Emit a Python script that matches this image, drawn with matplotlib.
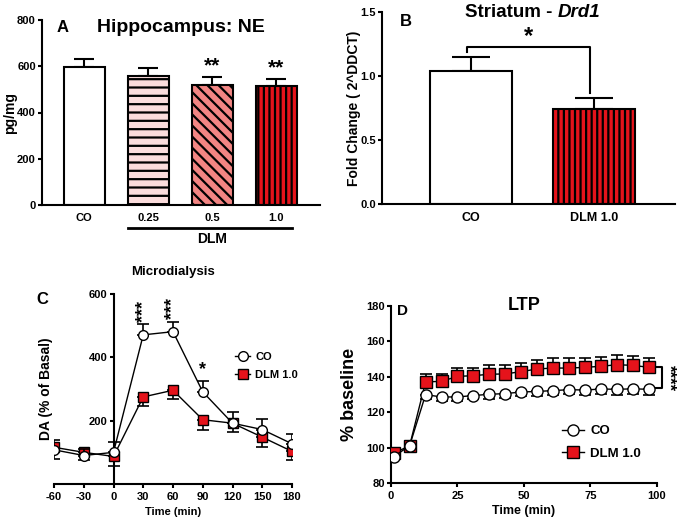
import matplotlib
matplotlib.use('Agg')
import matplotlib.pyplot as plt
from matplotlib.lines import Line2D
import matplotlib.transforms as mtransforms

plt.rcParams['font.family'] = ['Liberation Sans', 'DejaVu Sans']
plt.rcParams['font.weight'] = 'bold'
plt.rcParams['axes.labelweight'] = 'bold'
plt.rcParams['axes.unicode_minus'] = False
plt.rcParams['hatch.linewidth'] = 1.6
plt.rcParams['axes.linewidth'] = 1.5
plt.rcParams['xtick.major.width'] = 1.5
plt.rcParams['ytick.major.width'] = 1.5

# ---------------- Panel A data ----------------
a_groups = ['CO', '0.25', '0.5', '1.0']
a_ne = [598, 558, 520, 513]
a_sem = [35, 33, 35, 33]
a_sig = ['', '', '**', '**']
a_colors = ['white', '#fbdcdc', '#f28583', '#e5131b']
a_hatch = ['', '--', '\\\\\\', '|||']

# ---------------- Panel B data ----------------
b_groups = ['CO', 'DLM 1.0']
b_fold = [1.04, 0.74]
b_sem = [0.105, 0.085]
b_colors = ['white', '#e5131b']
b_hatch = ['', '|||']

# ---------------- Panel C data ----------------
c_time = [-60, -30, 0, 30, 60, 90, 120, 150, 180]
c_co = [108, 90, 100, 471, 481, 291, 192, 172, 127]
c_co_sem = [32, 22, 34, 33, 32, 35, 35, 32, 32]
c_dlm = [116, 100, 87, 275, 296, 203, 192, 148, 103]
c_dlm_sem = [37, 25, 30, 30, 29, 31, 28, 32, 27]
c_sig = ['', '', '', '***', '***', '*', '', '', '']

# ---------------- Panel D data ----------------
d_time = [1, 7, 13, 19, 25, 31, 37, 43, 49, 55, 61, 67, 73, 79, 85, 91, 97]
d_co = [95.0, 101.2, 130.0, 128.7, 128.7, 129.5, 130.2, 130.6, 131.5, 131.8,
        132.3, 132.8, 132.6, 133.2, 133.0, 133.3, 133.0]
d_co_sem = [1.0, 1.0, 2.5, 2.0, 2.0, 2.0, 2.5, 2.5, 2.5, 2.5, 2.5, 2.5, 3.0, 3.0, 3.0, 3.0, 3.0]
d_dlm = [96.9, 101.2, 137.2, 137.5, 140.3, 140.7, 141.5, 141.7, 143.0, 144.5,
         145.0, 145.0, 145.4, 146.0, 146.9, 146.5, 145.4]
d_dlm_sem = [1.0, 1.0, 4.5, 4.0, 4.5, 4.5, 5.0, 5.0, 5.0, 5.0, 5.5, 5.5, 5.5, 5.5, 5.5, 5.5, 5.5]

W, H = 680, 522
fig = plt.figure(figsize=(W / 100, H / 100), dpi=100)


def ax_px(left, top, right, bottom):
    return fig.add_axes([left / W, (H - bottom) / H, (right - left) / W, (bottom - top) / H])


def style(ax):
    for s in ['top', 'right']:
        ax.spines[s].set_visible(False)
    ax.tick_params(axis='both', labelsize=8, length=3, width=1.5, pad=1.5)
    for lab in ax.get_xticklabels() + ax.get_yticklabels():
        lab.set_fontweight('bold')


# ================= Panel A =================
axA = ax_px(42, 20, 320, 205)
xa = list(range(len(a_groups)))
bw = 0.64
axA.bar(xa, a_ne, width=bw, color=a_colors, edgecolor='black', linewidth=1.5,
        hatch=a_hatch, zorder=2)
axA.errorbar(xa, a_ne, yerr=[[0] * len(a_sem), a_sem], fmt='none', ecolor='black',
             elinewidth=1.5, capsize=7, capthick=1.5, zorder=1)
for x, m, e, s in zip(xa, a_ne, a_sem, a_sig):
    if s:
        axA.text(x, m + e + 5, s, ha='center', va='bottom', fontsize=15, fontweight='bold')
axA.set_xlim(-0.66, 3.68)
axA.set_ylim(0, 800)
axA.set_yticks([0, 200, 400, 600, 800])
axA.set_xticks(xa)
axA.set_xticklabels(a_groups)
style(axA)
axA.tick_params(axis='x', length=0, pad=6)
axA.set_ylabel('pg/mg', fontsize=10, fontweight='bold')
axA.yaxis.set_label_coords(-0.09, 0.5)
axA.text(0.074, 0.96, 'A', transform=axA.transAxes, fontsize=12, fontweight='bold',
         ha='center', va='center')
axA.text(0.5, 0.96, 'Hippocampus: NE', transform=axA.transAxes, fontsize=14,
         fontweight='bold', ha='center', va='center')
trA = mtransforms.blended_transform_factory(axA.transData, axA.transAxes)
axA.add_line(Line2D([xa[1] - bw / 2, xa[3] + bw / 2 - 0.08], [-0.124, -0.124], transform=trA,
                    color='black', lw=2, clip_on=False))
axA.text((xa[1] + xa[3]) / 2, -0.186, 'DLM', transform=trA, ha='center', va='center',
         fontsize=10, fontweight='bold')

# ================= Panel B =================
axB = ax_px(382, 12, 675, 204)
xb = list(range(len(b_groups)))
bwb = 0.667
axB.bar(xb, b_fold, width=bwb, color=b_colors, edgecolor='black', linewidth=1.5,
        hatch=b_hatch, zorder=2)
axB.errorbar(xb, b_fold, yerr=[[0] * len(b_sem), b_sem], fmt='none', ecolor='black',
             elinewidth=1.5, capsize=14, capthick=1.5, zorder=1)
axB.set_xlim(-0.724, 1.659)
axB.set_ylim(0, 1.5)
axB.set_yticks([0, 0.5, 1.0, 1.5])
axB.set_yticklabels(['0.0', '0.5', '1.0', '1.5'])
axB.set_xticks(xb)
axB.set_xticklabels(b_groups)
style(axB)
axB.tick_params(axis='x', length=0, pad=6, labelsize=9)
axB.set_ylabel('Fold Change ( 2^DDCT)', fontsize=10, fontweight='bold')
axB.yaxis.set_label_coords(-0.072, 0.5)
# significance bracket
top = max(b_fold[0] + b_sem[0], b_fold[1] + b_sem[1]) + 0.08
axB.plot([xb[0] - 0.03, xb[0] - 0.03, xb[1] - 0.03, xb[1] - 0.03],
         [b_fold[0] + b_sem[0] + 0.045, top, top, b_fold[1] + b_sem[1] + 0.04],
         color='black', lw=1.5)
axB.text((xb[0] + xb[1]) / 2 - 0.03, top + 0.085, '*', ha='center', va='center',
         fontsize=17, fontweight='bold')
axB.text(0.06, 0.95, 'B', transform=axB.transAxes, fontsize=12, fontweight='bold', va='center')
t1 = fig.text(465 / W, (H - 17) / H, 'Striatum - ', fontsize=13.5, fontweight='bold',
              ha='left', va='baseline')
axB.annotate('Drd1', xy=(1, 0), xycoords=t1, ha='left', va='bottom', fontsize=13.5,
             fontweight='bold', fontstyle='italic', annotation_clip=False)

# ================= Panel C =================
axC = ax_px(54, 294, 292, 484)
axC.plot(c_time, c_dlm, color='black', lw=1, zorder=2)
axC.errorbar(c_time, c_dlm, yerr=[c_dlm_sem, [0] * len(c_dlm_sem)], fmt='none',
             ecolor='black', elinewidth=1.2, capsize=4, capthick=1.2, zorder=2)
axC.plot(c_time, c_dlm, linestyle='none', marker='s', ms=7, mfc='#e5131b',
         mec='black', mew=1, zorder=3)
axC.plot(c_time, c_co, color='black', lw=1, zorder=4)
axC.errorbar(c_time, c_co, yerr=[[0] * len(c_co_sem), c_co_sem], fmt='none',
             ecolor='black', elinewidth=1.2, capsize=4, capthick=1.2, zorder=4)
axC.plot(c_time, c_co, linestyle='none', marker='o', ms=7, mfc='white',
         mec='black', mew=1, zorder=5)
for t, m, e, s in zip(c_time, c_co, c_co_sem, c_sig):
    if s == '*':
        axC.text(t, m + e + 8, s, ha='center', va='bottom', fontsize=13, fontweight='bold')
    elif s:
        axC.text(t, m + e + 8, s, ha='center', va='bottom', fontsize=13, fontweight='bold',
                 rotation=90)
axC.set_xlim(-60, 180)
axC.set_ylim(0, 600)
axC.set_xticks(c_time)
axC.set_yticks([200, 400, 600])
axC.spines['left'].set_position(('data', 0))
style(axC)
axC.tick_params(axis='x', pad=2.5)
axC.set_xlabel('Time (min)', fontsize=8, fontweight='bold', labelpad=4)
axC.text(-0.034, 0.5, 'DA (% of Basal)', transform=axC.transAxes, rotation=90,
         fontsize=10, fontweight='bold', ha='center', va='center')
axC.text(0.5, 1.115, 'Microdialysis', transform=axC.transAxes, fontsize=9.5,
         fontweight='bold', ha='center', va='center')
axC.text(-0.05, 0.97, 'C', transform=axC.transAxes, fontsize=12, fontweight='bold',
         ha='center', va='center')
hC = [Line2D([], [], color='black', lw=1, marker='o', ms=7, mfc='white', mec='black'),
      Line2D([], [], color='black', lw=1, marker='s', ms=7, mfc='#e5131b', mec='black')]
axC.legend(hC, ['CO', 'DLM 1.0'], loc='center left', bbox_to_anchor=(0.72, 0.62),
           frameon=False, handlelength=1.3, handletextpad=0.5,
           prop={'weight': 'bold', 'size': 8}, labelspacing=0.7)

# ================= Panel D =================
axD = ax_px(391, 306, 657, 483.3)
axD.plot(d_time, d_dlm, color='black', lw=1, zorder=2)
axD.errorbar(d_time, d_dlm, yerr=[[0] * len(d_dlm_sem), d_dlm_sem], fmt='none',
             ecolor='black', elinewidth=1.2, capsize=4, capthick=1.2, zorder=2)
axD.plot(d_time, d_dlm, linestyle='none', marker='s', ms=8, mfc='#e5131b',
         mec='black', mew=1, zorder=3)
axD.plot(d_time, d_co, color='black', lw=1, zorder=4)
axD.errorbar(d_time, d_co, yerr=[d_co_sem, [0] * len(d_co_sem)], fmt='none',
             ecolor='black', elinewidth=1.2, capsize=4, capthick=1.2, zorder=4)
axD.plot(d_time, d_co, linestyle='none', marker='o', ms=8, mfc='white',
         mec='black', mew=1, zorder=5)
axD.set_xlim(0, 100)
axD.set_ylim(80, 180)
axD.set_xticks([0, 25, 50, 75, 100])
axD.set_yticks([80, 100, 120, 140, 160, 180])
style(axD)
axD.tick_params(axis='x', pad=2.5)
axD.set_xlabel('Time (min)', fontsize=9, fontweight='bold', labelpad=3)
axD.set_ylabel('% baseline', fontsize=13, fontweight='bold')
axD.yaxis.set_label_coords(-0.124, 0.5)
axD.text(0.5, 1.0, 'LTP', transform=axD.transAxes, fontsize=13, fontweight='bold',
         ha='center', va='center')
axD.text(0.045, 0.97, 'D', transform=axD.transAxes, fontsize=11, fontweight='bold',
         ha='center', va='center')
# significance bracket at the end
xe = d_time[-1]
axD.plot([xe + 2.6, xe + 5, xe + 5, xe + 2.6], [d_dlm[-1], d_dlm[-1], d_co[-1] + 0.8, d_co[-1] + 0.8],
         color='black', lw=1.5, clip_on=False)
axD.text(xe + 7.5, (d_dlm[-1] + d_co[-1]) / 2, '****', rotation=270, ha='center', va='center',
         fontsize=12, fontweight='bold', clip_on=False)
hD = [Line2D([], [], color='black', lw=1, marker='o', ms=8, mfc='white', mec='black'),
      Line2D([], [], color='black', lw=1, marker='s', ms=8, mfc='#e5131b', mec='black')]
axD.legend(hD, ['CO', 'DLM 1.0'], loc='center left', bbox_to_anchor=(0.6, 0.23),
           frameon=False, handlelength=1.6, handletextpad=0.5,
           prop={'weight': 'bold', 'size': 9.5}, labelspacing=0.8)

fig.savefig('out.png', dpi=100)
